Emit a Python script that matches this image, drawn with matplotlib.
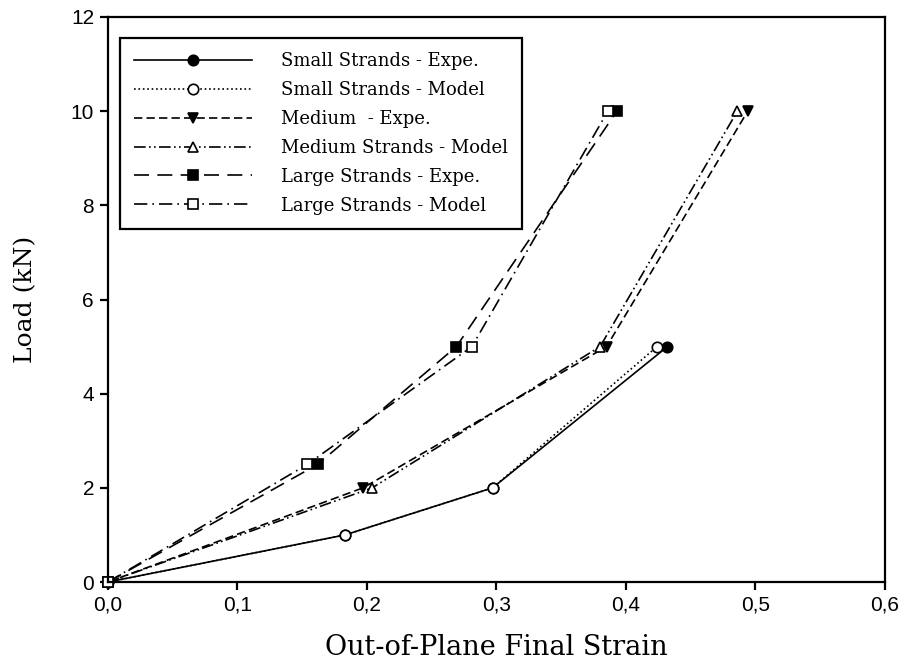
import matplotlib
matplotlib.use("Agg")
import matplotlib.pyplot as plt
from matplotlib.ticker import FuncFormatter

# load steps (kN)
load_small = [0, 1, 2, 5]
load_medium = [0, 2, 5, 10]
load_large = [0, 2.5, 5, 10]

# out-of-plane final strain
small_expe = [0, 0.183, 0.297, 0.432]
small_model = [0, 0.183, 0.297, 0.424]
medium_expe = [0, 0.197, 0.385, 0.494]
medium_model = [0, 0.204, 0.380, 0.486]
large_expe = [0, 0.162, 0.269, 0.393]
large_model = [0, 0.154, 0.281, 0.386]

labels = ["Small Strands - Expe.", "Small Strands - Model", "Medium  - Expe.",
          "Medium Strands - Model", "Large Strands - Expe.", "Large Strands - Model"]

fig = plt.figure(figsize=(9.07, 6.7), dpi=100)
ax = fig.add_axes([108 / 907, 88 / 670, 777 / 907, 565 / 670])

kw = dict(color="black", lw=1.2, markersize=7.5, markeredgewidth=1.2, clip_on=False)
ax.plot(small_expe, load_small, "-", marker="o", mfc="black", label=labels[0], **kw)
ax.plot(small_model, load_small, ":", marker="o", mfc="white", label=labels[1], **kw)
ax.plot(medium_expe, load_medium, "--", marker="v", mfc="black", label=labels[2], dashes=(5, 2.5), **kw)
ax.plot(medium_model, load_medium, "-", marker="^", mfc="white", label=labels[3],
        dashes=(7, 2, 1, 2, 1, 2), **kw)
ax.plot(large_expe, load_large, "-", marker="s", mfc="black", label=labels[4], dashes=(9, 5), **kw)
ax.plot(large_model, load_large, "-", marker="s", mfc="white", label=labels[5], dashes=(8, 3, 1, 3), **kw)

ax.set_xlim(0, 0.6)
ax.set_ylim(0, 12)
ax.set_xticks([0, 0.1, 0.2, 0.3, 0.4, 0.5, 0.6])
ax.set_yticks([0, 2, 4, 6, 8, 10, 12])
ax.xaxis.set_major_formatter(FuncFormatter(lambda v, p: f"{v:.1f}".replace(".", ",")))
for s in ax.spines.values():
    s.set_linewidth(1.6)
ax.tick_params(direction="out", length=6, width=1.6, labelsize=15, pad=4)
for t in ax.get_xticklabels() + ax.get_yticklabels():
    t.set_family("Liberation Sans")

ax.set_xlabel("Out-of-Plane Final Strain", family="DejaVu Serif", fontsize=19.5, labelpad=14)
ax.set_ylabel("Load (kN)", family="DejaVu Serif", fontsize=18, labelpad=24)

leg = ax.legend(loc="upper left", bbox_to_anchor=(0.0155, 0.963), borderaxespad=0, numpoints=1,
                handlelength=6.5, handletextpad=1.6, labelspacing=0.6, borderpad=0.8,
                fancybox=False, edgecolor="black", framealpha=1,
                prop={"family": "DejaVu Serif", "size": 13})
leg.get_frame().set_linewidth(1.6)

fig.savefig("out.png", dpi=100)
